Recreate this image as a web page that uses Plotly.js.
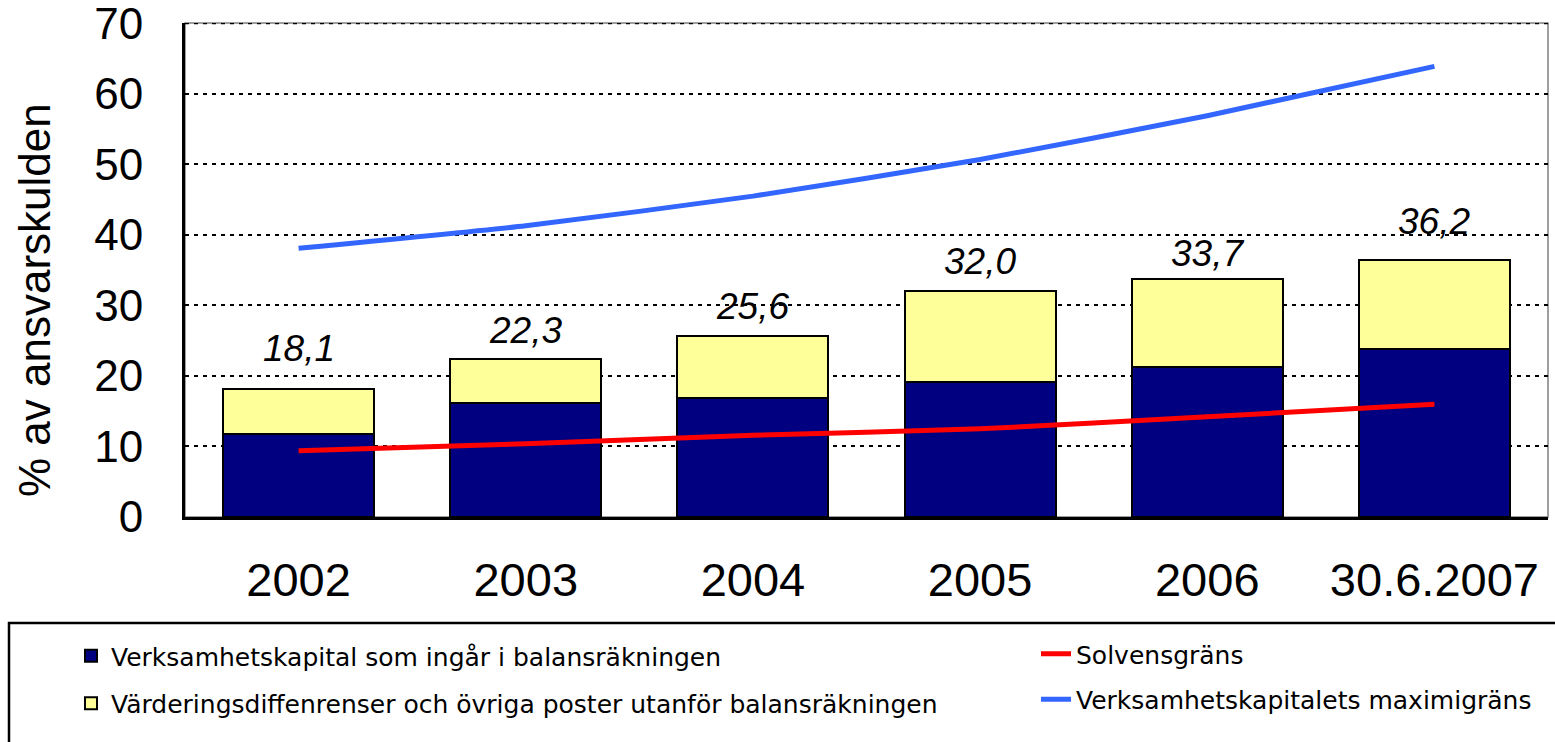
<!DOCTYPE html>
<html>
<head>
<meta charset="utf-8">
<script src="https://cdn.plot.ly/plotly-3.0.1.min.js"></script>
<style>
  html, body { margin: 0; padding: 0; background: #ffffff; }
  #chart { width: 1555px; height: 742px; }
</style>
</head>
<body>
<div id="chart"></div>
<script>
// ---- data ----
var categories = ["2002", "2003", "2004", "2005", "2006", "30.6.2007"];
var balanceCapital = [11.8, 16.1, 16.9, 19.1, 21.3, 23.8];   // navy part
var offBalance     = [6.4, 6.3, 8.8, 13.0, 12.4, 12.7];      // yellow part
var totalLabels    = ["18,1", "22,3", "25,6", "32,0", "33,7", "36,2"];
var solvencyLimit  = [9.4, 10.4, 11.6, 12.5, 14.2, 16.0];    // red line
var maxLimit       = [38.1, 41.3, 45.5, 50.7, 56.9, 63.9];   // blue line

var seriesNames = [
  "Verksamhetskapital som ingår i balansräkningen",
  "Värderingsdiffenrenser och övriga poster utanför balansräkningen",
  "Solvensgräns",
  "Verksamhetskapitalets maximigräns"
];
var yTitle = "% av ansvarskulden";
var yTicks = [0, 10, 20, 30, 40, 50, 60, 70];

// label offsets above each bar (pixels)
var labelOffsets = [40, 29, 29, 29, 26, 38];

// ---- layout geometry (pixels) ----
var W = 1555, H = 742;
var mL = 185, mR = 7, mT = 23, mB = 225;
var plotW = W - mL - mR, plotH = H - mT - mB;
function px2x(px) { return (px - mL) / plotW; }
function px2y(py) { return (H - mB - py) / plotH; }

var traces = [
  {
    type: "bar", name: seriesNames[0], x: categories, y: balanceCapital,
    marker: { color: "#000080", line: { color: "#000000", width: 2 } },
    legend: "legend", legendgroup: "g1", hoverinfo: "y"
  },
  {
    type: "bar", name: seriesNames[1], x: categories, y: offBalance,
    marker: { color: "#FFFF99", line: { color: "#000000", width: 2 } },
    legend: "legend", legendgroup: "g2", hoverinfo: "y"
  },
  {
    type: "scatter", mode: "lines", name: seriesNames[2], x: categories, y: solvencyLimit,
    line: { color: "#FF0000", width: 5, shape: "spline", smoothing: 0.5 },
    legend: "legend2", legendgroup: "g3"
  },
  {
    type: "scatter", mode: "lines", name: seriesNames[3], x: categories, y: maxLimit,
    line: { color: "#3366FF", width: 5, shape: "spline", smoothing: 0.5 },
    legend: "legend2", legendgroup: "g4"
  }
];

// total labels: x given as category index so numeric-looking names are not read as indices
var annotations = categories.map(function (c, i) {
  return {
    x: i, y: balanceCapital[i] + offBalance[i], xref: "x", yref: "y",
    text: totalLabels[i], showarrow: false,
    yanchor: "middle", yshift: labelOffsets[i],
    font: { family: "Liberation Sans, Arial, sans-serif", size: 37, color: "#000000", style: "italic" }
  };
});
// y-axis title (placed as rotated text to match the reference position)
annotations.push({
  x: px2x(34), y: px2y(300), xref: "paper", yref: "paper",
  xanchor: "center", yanchor: "middle", textangle: -90,
  text: yTitle, showarrow: false,
  font: { family: "Liberation Sans, Arial, sans-serif", size: 44, color: "#000000" }
});

var legendFont = { family: "DejaVu Sans, Liberation Sans, sans-serif", size: 25, color: "#000000" };

var layout = {
  width: W, height: H,
  margin: { l: mL, r: mR, t: mT, b: mB, pad: 0 },
  paper_bgcolor: "#ffffff", plot_bgcolor: "#ffffff",
  barmode: "stack", bargap: 0.335,
  showlegend: true,
  xaxis: {
    type: "category", range: [-0.5, categories.length - 0.5], autorange: false,
    showline: true, linecolor: "#000000", linewidth: 3,
    showgrid: false, ticks: "", ticklabelstandoff: 20, ticklabeloverflow: "allow",
    tickfont: { family: "Liberation Sans, Arial, sans-serif", size: 47, color: "#000000" },
    fixedrange: true
  },
  yaxis: {
    range: [0, 70.05], autorange: false, tickvals: yTicks, ticktext: yTicks.map(String),
    showline: true, linecolor: "#000000", linewidth: 3,
    showgrid: true, gridcolor: "#000000", gridwidth: 2, griddash: "4px,5px",
    zeroline: false, ticks: "", ticklabelstandoff: 30, ticklabeloverflow: "allow",
    tickfont: { family: "Liberation Sans, Arial, sans-serif", size: 44, color: "#000000" },
    automargin: false, fixedrange: true
  },
  legend: {
    x: px2x(71), y: px2y(633), xanchor: "left", yanchor: "top",
    orientation: "v", bgcolor: "rgba(0,0,0,0)", borderwidth: 0,
    tracegroupgap: 12, font: legendFont, traceorder: "grouped"
  },
  legend2: {
    x: px2x(1036), y: px2y(631), xanchor: "left", yanchor: "top",
    orientation: "v", bgcolor: "rgba(0,0,0,0)", borderwidth: 0,
    tracegroupgap: 10, font: legendFont, traceorder: "grouped"
  },
  annotations: annotations,
  shapes: [
    { type: "rect", xref: "paper", yref: "paper", x0: 0, x1: 1, y0: 0, y1: 1,
      line: { color: "#808080", width: 1.5 }, layer: "below" },
    // dotted gridline along the top value of the axis (Plotly skips the grid at the range edge)
    { type: "line", xref: "paper", yref: "y", x0: 0, x1: 1,
      y0: yTicks[yTicks.length - 1], y1: yTicks[yTicks.length - 1],
      line: { color: "#000000", width: 2, dash: "4px,5px" }, layer: "below" },
    { type: "rect", xref: "paper", yref: "paper",
      x0: px2x(9), x1: px2x(1562), y0: px2y(750), y1: px2y(623),
      line: { color: "#000000", width: 2.5 }, fillcolor: "rgba(0,0,0,0)" }
  ]
};

Plotly.newPlot("chart", traces, layout, { displayModeBar: false, staticPlot: true });
</script>
</body>
</html>
